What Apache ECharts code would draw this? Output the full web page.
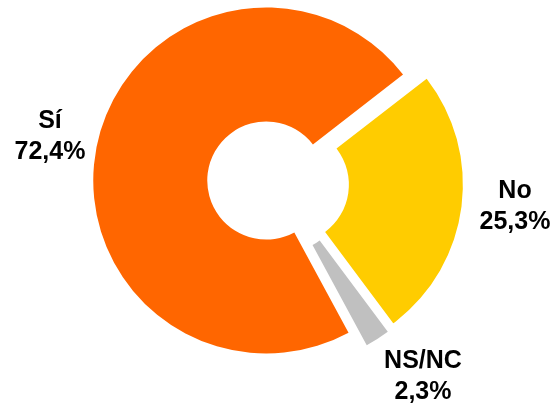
<!DOCTYPE html>
<html>
<head>
<meta charset="utf-8">
<script src="https://cdn.jsdelivr.net/npm/echarts@6/dist/echarts.min.js"></script>
<style>
    html, body { margin: 0; padding: 0; background: #ffffff; }
    #chart { width: 553px; height: 407px; }
</style>
</head>
<body>
<div id="chart"></div>
<script>
// datos del gráfico
var categories = ['Sí', 'No', 'NS/NC'];
var values = [72.4, 25.3, 2.3];
var colors = ['#FF6600', '#FFCC00', '#C0C0C0'];
// posición de cada etiqueta (centro del bloque de texto)
var labelPos = [[50, 137], [515, 207], [423, 377]];

var pieData = categories.map(function (name, i) {
    return {
        name: name,
        value: values[i],
        selected: true,
        itemStyle: { color: colors[i] }
    };
});

var total = values.reduce(function (a, b) { return a + b; }, 0);

// etiquetas como texto (nombre + porcentaje con coma decimal)
var labels = categories.map(function (name, i) {
    var pct = (values[i] / total * 100).toFixed(1).replace('.', ',') + '%';
    return {
        type: 'text',
        x: labelPos[i][0],
        y: labelPos[i][1],
        silent: true,
        style: {
            text: name + '\n' + pct,
            fill: '#000000',
            font: 'bold 25px "Liberation Sans", Arial, sans-serif',
            lineHeight: 31,
            align: 'center',
            verticalAlign: 'middle'
        }
    };
});

var option = {
    backgroundColor: '#ffffff',
    animation: false,
    graphic: labels,
    series: [{
        type: 'pie',
        center: [278, 183],
        radius: [59, 173],
        startAngle: -61.6,
        clockwise: true,
        selectedMode: 'multiple',
        selectedOffset: 12,
        emphasis: { disabled: true },
        select: { itemStyle: {} },
        data: pieData,
        label: { show: false },
        labelLine: { show: false }
    }]
};

var myChart = echarts.init(document.getElementById('chart'));
myChart.setOption(option);
</script>
</body>
</html>
